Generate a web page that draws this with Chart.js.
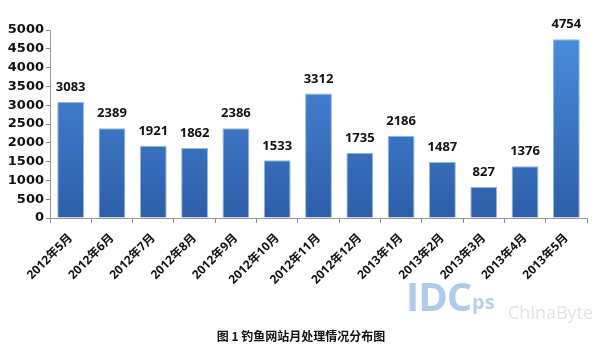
<!DOCTYPE html>
<html>
<head>
<meta charset="utf-8">
<script src="https://cdn.jsdelivr.net/npm/chart.js@4"></script>
<style>
  html, body { margin: 0; padding: 0; background: #fff; }
  #wrap { position: relative; width: 602px; height: 353px; }
  .wm { position: absolute; font-family: "Open Sans", sans-serif; font-weight: bold; pointer-events: none; }
  #title {
    position: absolute; left: 0; width: 602px; top: 327px; text-align: center;
    font: bold 12px "Noto Sans CJK SC", sans-serif; color: #111; line-height: 18px;
  }
</style>
</head>
<body>
<div id="wrap">
  <canvas id="chart" width="602" height="353"></canvas>
  <div class="wm" style="left:406px; top:268px; font-size:40px; color:rgba(110,160,220,0.55); letter-spacing:-1px;">IDC</div>
  <div class="wm" style="left:472px; top:288px; font-size:20px; color:rgba(110,160,220,0.5);">ps</div>
  <div class="wm" style="left:508px; top:300px; font-size:18px; color:rgba(190,190,190,0.45); font-weight:normal;">ChinaByte</div>
  <div id="title"></div>
</div>
<script>
// months on the x axis
const months = ['2012年5月', '2012年6月', '2012年7月', '2012年8月', '2012年9月', '2012年10月',
    '2012年11月', '2012年12月', '2013年1月', '2013年2月', '2013年3月', '2013年4月', '2013年5月'];
// handled phishing sites per month
const counts = [3083, 2389, 1921, 1862, 2386, 1533, 3312, 1735, 2186, 1487, 827, 1376, 4754];
const yMax = 5000;
const yStep = 500;
const chartTitle = '图 1 钓鱼网站月处理情况分布图';

document.getElementById('title').textContent = chartTitle;

// vertical gradient like the original bars
const barFill = (context) => {
    const area = context.chart.chartArea;
    if (!area) return '#3d78c8';
    const g = context.chart.ctx.createLinearGradient(0, area.top, 0, area.bottom);
    g.addColorStop(0, '#4b8ddf');
    g.addColorStop(1, '#2d5ea8');
    return g;
};

// value labels on top of each bar
const valueLabels = {
    id: 'valueLabels',
    afterDatasetsDraw(chart) {
        const { ctx } = chart;
        const meta = chart.getDatasetMeta(0);
        ctx.save();
        ctx.font = 'bold 13px "Open Sans", sans-serif';
        ctx.fillStyle = '#111';
        ctx.textAlign = 'center';
        ctx.textBaseline = 'bottom';
        meta.data.forEach((bar, i) => {
            ctx.fillText(counts[i], bar.x, bar.y - 8);
        });
        ctx.restore();
    }
};

const ctx = document.getElementById('chart').getContext('2d');
new Chart(ctx, {
    type: 'bar',
    data: {
        labels: months,
        datasets: [{
            data: counts,
            backgroundColor: barFill,
            borderColor: 'rgba(140,175,225,0.9)',
            borderWidth: 1,
            categoryPercentage: 1,
            barPercentage: 0.65,
        }],
    },
    options: {
        responsive: false,
        animation: false,
        layout: {
            padding: { top: 30, right: 15, left: 0, bottom: 56 },
        },
        plugins: {
            legend: { display: false },
            tooltip: { enabled: false },
        },
        scales: {
            x: {
                offset: true,
                grid: {
                    offset: true,
                    drawOnChartArea: false,
                    color: '#888',
                    tickLength: 5,
                },
                border: { color: '#999' },
                ticks: {
                    minRotation: 45,
                    maxRotation: 45,
                    color: '#111',
                    padding: 8,
                    font: { family: '"Open Sans", "Noto Sans CJK SC", sans-serif', size: 12, weight: 'bold' },
                },
                afterFit(scale) { scale.height = 79; },
            },
            y: {
                min: 0,
                max: yMax,
                grid: {
                    drawOnChartArea: false,
                    color: '#888',
                    tickLength: 4,
                },
                border: { color: '#999' },
                ticks: {
                    stepSize: yStep,
                    color: '#111',
                    padding: 2,
                    font: { family: '"DejaVu Sans", sans-serif', size: 13, weight: 'bold' },
                    callback: (v) => String(v),
                },
                afterFit(scale) { scale.width = 50; },
            },
        },
    },
    plugins: [valueLabels],
});
</script>
</body>
</html>
